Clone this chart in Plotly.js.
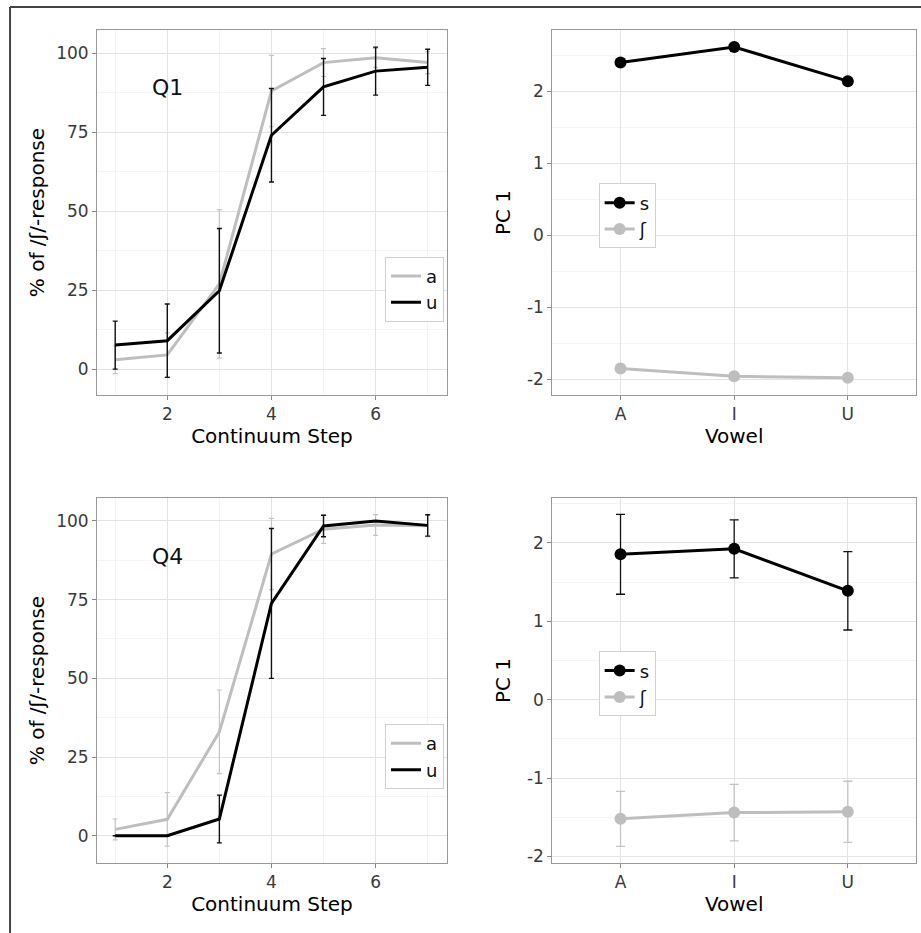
<!DOCTYPE html>
<html>
<head>
<meta charset="utf-8">
<script src="https://cdn.plot.ly/plotly-3.0.1.min.js"></script>
<style>html,body{margin:0;padding:0;background:#fff;}#chart{width:921px;height:933px;}</style>
</head>
<body>
<div id="chart"></div>
<script>
// ---- data ----
const steps = [1, 2, 3, 4, 5, 6, 7];
const q1A = [3, 4.5, 27, 88, 97, 98.5, 97];
const q1AErr = [4.4, 7, 23.5, 11.3, 4.4, 3, 3.5];
const q1U = [7.6, 9, 24.8, 74, 89.3, 94.3, 95.5];
const q1UErr = [7.6, 11.6, 19.7, 14.8, 9, 7.6, 5.7];
const q4A = [2, 5.2, 33, 89.5, 97.4, 98.7, 98.5];
const q4AErr = [3.3, 8.5, 13.3, 11.3, 4.5, 3.3, 3.5];
const q4U = [0, 0, 5.3, 73.8, 98.4, 100, 98.6];
const q4UErr = [0, 0, 7.6, 23.8, 3.4, 0, 3.4];

const vowels = ['A', 'I', 'U'];
const topS = [2.40, 2.615, 2.14];
const topSh = [-1.85, -1.96, -1.98];
const botS = [1.856, 1.925, 1.39];
const botSErr = [0.51, 0.37, 0.5];
const botSh = [-1.52, -1.44, -1.43];
const botShErr = [0.35, 0.36, 0.39];

const pcTickVals = [-2, -1, 0, 1, 2];
const pcTickText = ['-2', '-1', '0', '1', '2'];

const yTitleCont = '% of /ʃ/-response';
const xTitleCont = 'Continuum Step';
const yTitlePC = 'PC 1';
const xTitleVowel = 'Vowel';

// ---- styles ----
const GRAY = '#bebebe';
const BLACK = '#000000';
const FONT = 'DejaVu Sans, Liberation Sans, Arial, sans-serif';

function contTrace(x, y, err, color, name, xa, ya, leg, errColor, errW) {
  return {
    type: 'scatter', mode: 'lines', x: x, y: y, name: name,
    xaxis: xa, yaxis: ya, legend: leg,
    line: {color: color, width: 3},
    error_y: {type: 'data', array: err, visible: true, color: errColor, thickness: errW, width: 2.5}
  };
}
function pcTrace(x, y, err, color, name, xa, ya, leg, errColor) {
  const t = {
    type: 'scatter', mode: 'lines+markers', x: x, y: y, name: name,
    xaxis: xa, yaxis: ya, legend: leg,
    line: {color: color, width: 3},
    marker: {color: color, size: 12}
  };
  if (err) t.error_y = {type: 'data', array: err, visible: true, color: errColor, thickness: 1.3, width: 4.5};
  return t;
}

const data = [
  contTrace(steps, q1A, q1AErr, GRAY, 'a', 'x', 'y', 'legend', '#c4c4c4', 1.2),
  contTrace(steps, q1U, q1UErr, BLACK, 'u', 'x', 'y', 'legend', '#111111', 1.4),
  pcTrace(vowels, topS, null, BLACK, 's', 'x2', 'y2', 'legend2'),
  pcTrace(vowels, topSh, null, GRAY, 'ʃ', 'x2', 'y2', 'legend2'),
  contTrace(steps, q4A, q4AErr, GRAY, 'a', 'x3', 'y3', 'legend3', '#c4c4c4', 1.2),
  contTrace(steps, q4U, q4UErr, BLACK, 'u', 'x3', 'y3', 'legend3', '#111111', 1.4),
  pcTrace(vowels, botS, botSErr, BLACK, 's', 'x4', 'y4', 'legend4', '#111111'),
  pcTrace(vowels, botSh, botShErr, GRAY, 'ʃ', 'x4', 'y4', 'legend4', '#c4c4c4')
];

const axBase = {
  showline: true, mirror: true, linecolor: '#999999', linewidth: 1,
  showgrid: true, gridcolor: '#e3e3e3', gridwidth: 1,
  zeroline: false, ticks: 'outside', ticklen: 4, tickcolor: '#888888', tickwidth: 1,
  tickfont: {family: FONT, size: 17, color: '#3a3a3a'},
  automargin: false, fixedrange: true
};
function ax(extra) { return Object.assign({}, axBase, extra); }
const titleFont = {family: FONT, size: 20, color: '#000'};

const xDomL = [0.1053, 0.4853], xDomR = [0.5997, 0.9946];
const yDomT = [0.5766, 0.9678], yDomB = [0.0753, 0.4659];

const contX = (anchor, dom) => ax({
  domain: dom, anchor: anchor, range: [0.65, 7.37], tickmode: 'linear', tick0: 0, dtick: 2,
  minor: {dtick: 1, tick0: 0, showgrid: true, gridcolor: '#f4f4f4', ticks: ''},
  title: {text: xTitleCont, font: titleFont, standoff: 5}
});
const contY = (anchor, dom, rng) => ax({
  domain: dom, anchor: anchor, range: rng, tickmode: 'linear', tick0: 0, dtick: 25,
  minor: {dtick: 12.5, tick0: 0, showgrid: true, gridcolor: '#f4f4f4', ticks: ''},
  title: {text: yTitleCont, font: titleFont, standoff: 6}
});
const pcX = (anchor, dom) => ax({
  domain: dom, anchor: anchor, type: 'category', range: [-0.6, 2.6],
  title: {text: xTitleVowel, font: titleFont, standoff: 5}
});
const pcY = (anchor, dom, rng) => ax({
  domain: dom, anchor: anchor, range: rng, tickmode: 'array', tickvals: pcTickVals, ticktext: pcTickText,
  minor: {dtick: 0.5, tick0: 0, showgrid: true, gridcolor: '#f4f4f4', ticks: ''},
  title: {text: yTitlePC, font: titleFont, standoff: 10}
});

const legBase = {
  bgcolor: '#ffffff', bordercolor: '#d0d0d0', borderwidth: 1,
  font: {family: FONT, size: 18, color: '#111'}, itemwidth: 30,
  xanchor: 'left', yanchor: 'middle', xref: 'paper', yref: 'paper', tracegroupgap: 0
};
function leg(x, y) { return Object.assign({}, legBase, {x: x, y: y}); }

const layout = {
  width: 921, height: 933,
  margin: {l: 0, r: 0, t: 0, b: 0},
  paper_bgcolor: '#ffffff', plot_bgcolor: '#ffffff',
  font: {family: FONT},
  showlegend: true,
  xaxis: contX('y', xDomL),
  yaxis: contY('x', yDomT, [-8.2, 107.3]),
  xaxis2: pcX('y2', xDomR),
  yaxis2: pcY('x2', yDomT, [-2.22, 2.85]),
  xaxis3: contX('y3', xDomL),
  yaxis3: contY('x3', yDomB, [-8.6, 107.2]),
  xaxis4: pcX('y4', xDomR),
  yaxis4: pcY('x4', yDomB, [-2.08, 2.57]),
  legend: leg(0.418, 0.690),
  legend2: leg(0.650, 0.7685),
  legend3: leg(0.418, 0.189),
  legend4: leg(0.650, 0.267),
  annotations: [
    {text: 'Q1', x: 2, y: 89, xref: 'x', yref: 'y', showarrow: false, font: {family: FONT, size: 22, color: '#111'}},
    {text: 'Q4', x: 2, y: 88.7, xref: 'x3', yref: 'y3', showarrow: false, font: {family: FONT, size: 22, color: '#111'}}
  ],
  shapes: [
    {type: 'line', xref: 'paper', yref: 'paper', x0: 0.0109, x1: 1, y0: 0.9925, y1: 0.9925, line: {color: '#444', width: 2}},
    {type: 'line', xref: 'paper', yref: 'paper', x0: 0.0109, x1: 0.0109, y0: 0, y1: 0.9925, line: {color: '#444', width: 2}}
  ]
};

Plotly.newPlot('chart', data, layout, {staticPlot: true, displayModeBar: false});
</script>
</body>
</html>
